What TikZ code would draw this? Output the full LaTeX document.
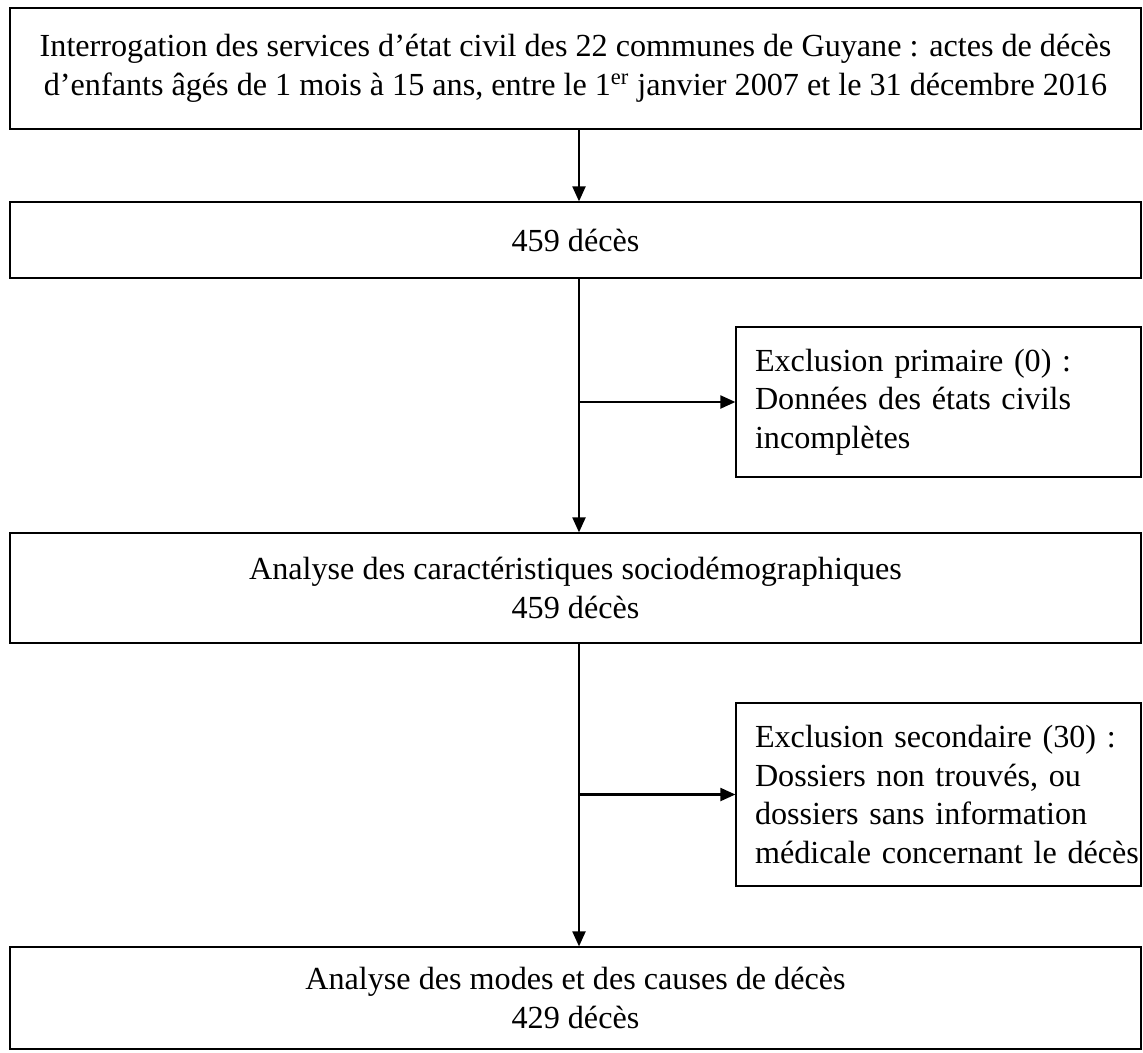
\documentclass[tikz,border=0pt]{standalone}
\usepackage{fontspec}
\setmainfont{Liberation Serif}
\usetikzlibrary{arrows.meta}

\begin{document}
\begin{tikzpicture}[
    x=1cm,y=1cm,
    font=\fontsize{18.3}{21.9}\selectfont,
    line join=miter,
    mainbox/.style={draw=black,line width=0.7pt,minimum width=22.62cm,align=center,inner sep=0pt},
    sidebox/.style={draw=black,line width=0.7pt,text width=8.10cm,inner sep=0pt,align=left,
        execute at begin node={\leftskip=0.38cm\relax}},
    flow/.style={draw=black,line width=1.2pt,-{Triangle[length=0.3cm,width=0.26cm]}}
]

\useasboundingbox (0,0) rectangle (22.86,-21.04);

\coordinate (trunk) at (11.58,0);

\node[mainbox,minimum height=2.42cm] (interrogation) at (11.51,-1.37)
    {Interrogation des services d’état civil des 22 communes de Guyane : actes de décès\\
     d’enfants âgés de 1 mois à 15 ans, entre le 1\textsuperscript{er} janvier 2007 et le 31 décembre 2016};
\node[mainbox,minimum height=1.52cm] (deces) at (11.51,-4.80) {459 décès};
\node[sidebox,minimum height=3.0cm] (exclprim) at (18.77,-8.04)
    {Exclusion primaire (0) :\\ Données des états civils\\ incomplètes};
\node[mainbox,minimum height=2.2cm] (sociodemo) at (11.51,-11.76)
    {Analyse des caractéristiques sociodémographiques\\ 459 décès};
\node[sidebox,minimum height=3.66cm] (exclsec) at (18.77,-15.89)
    {Exclusion secondaire (30) :\\ Dossiers non trouvés, ou\\ dossiers sans information\\ médicale concernant le décès};
\node[mainbox,minimum height=2.04cm] (causes) at (11.51,-19.96)
    {Analyse des modes et des causes de décès\\ 429 décès};

\draw[flow] (interrogation.south -| trunk) -- (deces.north -| trunk);
\draw[flow] (deces.south -| trunk) -- (sociodemo.north -| trunk);
\draw[flow] (exclprim.west -| trunk) -- (exclprim.west);
\draw[flow] (sociodemo.south -| trunk) -- (causes.north -| trunk);
\draw[flow] (exclsec.west -| trunk) -- (exclsec.west);

\end{tikzpicture}
\end{document}
